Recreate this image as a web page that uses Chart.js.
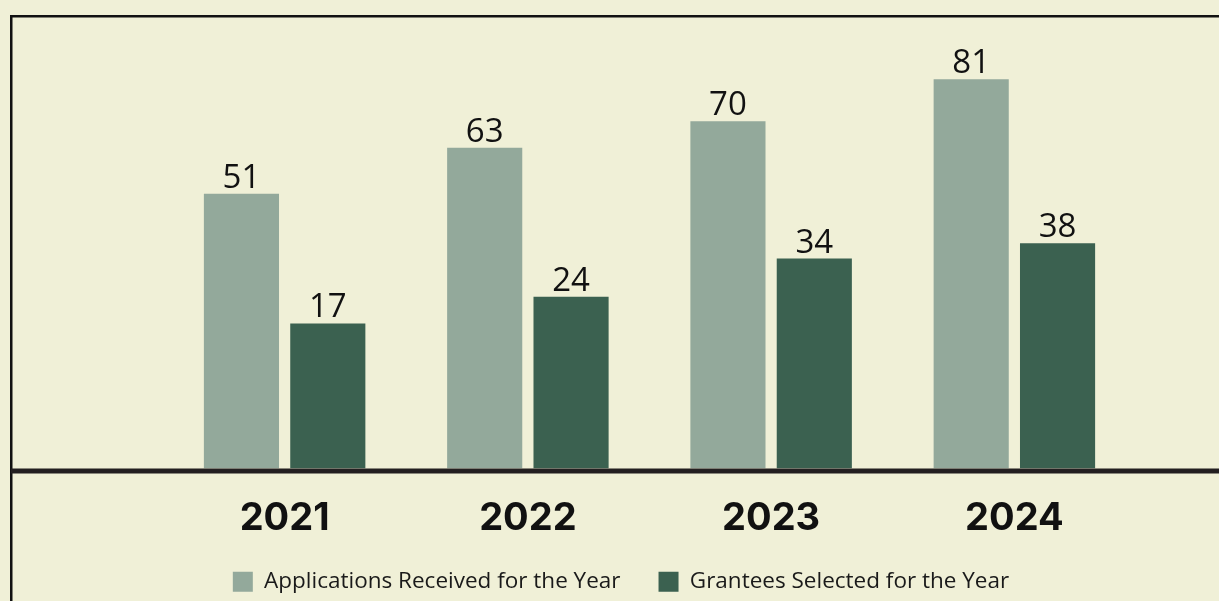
<!DOCTYPE html>
<html>
<head>
<meta charset="utf-8">
<script src="https://cdn.jsdelivr.net/npm/chart.js@4.4.1/dist/chart.umd.min.js"></script>
<style>
  html, body { margin: 0; padding: 0; background: #f0f0d7; }
  #wrap { width: 1219px; height: 601px; }
</style>
</head>
<body>
<div id="wrap"><canvas id="grantChart"></canvas></div>
<script>
// values
const years = ["2021", "2022", "2023", "2024"];
const applications = [51, 63, 70, 81];
const grantees = [17, 24, 34, 38];
const seriesNames = ["Applications Received for the Year", "Grantees Selected for the Year"];

// value axis does not start at zero in the original
const Y_MIN = -21;
const Y_MAX = 96.5;

const BG = "#f0f0d7";
const LIGHT = "#93a99b";
const DARK = "#3b6150";
const INK = "#111111";

// background + frame + thick baseline
const framePlugin = {
  id: "frame",
  beforeDraw(chart) {
    const ctx = chart.ctx;
    ctx.save();
    ctx.fillStyle = BG;
    ctx.fillRect(0, 0, chart.width, chart.height);
    ctx.strokeStyle = INK;
    ctx.lineWidth = 2.5;
    ctx.beginPath();
    ctx.moveTo(11.25, chart.height);
    ctx.lineTo(11.25, 16.25);
    ctx.lineTo(chart.width, 16.25);
    ctx.stroke();
    ctx.restore();
  },
  afterDatasetsDraw(chart) {
    const ctx = chart.ctx;
    const y = chart.scales.y.getPixelForValue(Y_MIN);
    ctx.save();
    ctx.strokeStyle = "#231f20";
    ctx.lineWidth = 5;
    ctx.beginPath();
    ctx.moveTo(11, y + 2.5);
    ctx.lineTo(chart.width, y + 2.5);
    ctx.stroke();
    ctx.restore();
  },
};

// numbers above bars
const valueLabels = {
  id: "valueLabels",
  afterDatasetsDraw(chart) {
    const ctx = chart.ctx;
    ctx.save();
    ctx.font = "33px 'Open Sans'";
    ctx.fillStyle = INK;
    ctx.textAlign = "center";
    ctx.textBaseline = "alphabetic";
    chart.data.datasets.forEach((ds, i) => {
      chart.getDatasetMeta(i).data.forEach((bar, j) => {
        ctx.fillText(String(ds.data[j]), bar.x, bar.y - 6);
      });
    });
    ctx.restore();
  },
};

const ctx = document.getElementById("grantChart");
const myChart = new Chart(ctx, {
  type: "bar",
  data: {
    labels: years,
    datasets: [
      {
        label: seriesNames[0],
        data: applications,
        backgroundColor: LIGHT,
        base: Y_MIN,
        categoryPercentage: 0.71,
        barPercentage: 0.87,
      },
      {
        label: seriesNames[1],
        data: grantees,
        backgroundColor: DARK,
        base: Y_MIN,
        categoryPercentage: 0.71,
        barPercentage: 0.87,
      },
    ],
  },
  options: {
    responsive: true,
    maintainAspectRatio: false,
    animation: false,
    layout: { padding: { left: 106, right: 83, top: 20, bottom: -2 } },
    scales: {
      x: {
        grid: { display: false },
        border: { display: false },
        ticks: {
          color: INK,
          font: { family: "Inter", size: 38, weight: "bold" },
          padding: 19,
        },
        afterFit(scale) {
          scale.height = 64;
        },
      },
      y: {
        min: Y_MIN,
        max: Y_MAX,
        grid: { display: false },
        border: { display: false },
        ticks: { display: false },
        afterFit(scale) {
          scale.width = 57;
        },
      },
    },
    plugins: {
      legend: {
        position: "bottom",
        labels: {
          boxWidth: 20,
          boxHeight: 20,
          padding: 38,
          color: "#1a1a1a",
          font: { family: "Open Sans", size: 22.5 },
        },
      },
      tooltip: { enabled: false },
    },
  },
  plugins: [framePlugin, valueLabels],
});
</script>
</body>
</html>
